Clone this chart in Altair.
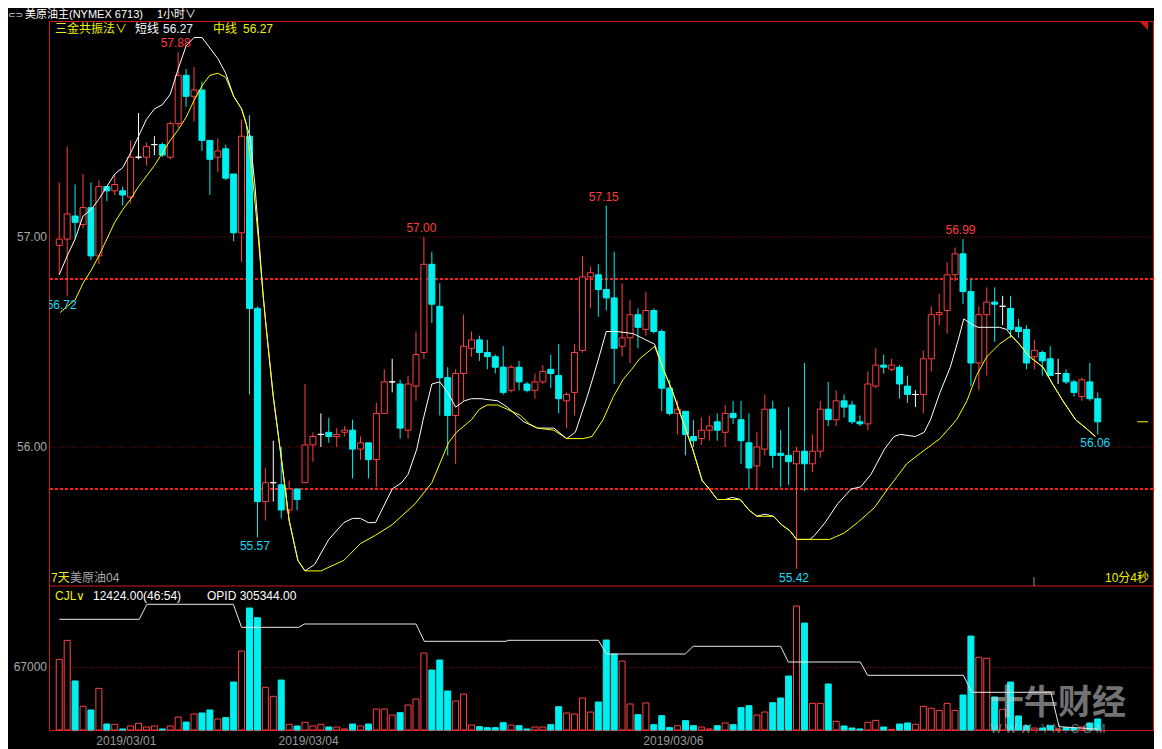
import altair as alt
import pandas as pd

# ---------------- data ----------------
OPEN = [56.96, 56.99, 57.10, 57.06, 57.14, 56.91, 57.24, 57.22, 57.22, 57.19,
        57.38, 57.38, 57.44, 57.44, 57.38, 57.54, 57.77, 57.67, 57.70, 57.46,
        57.38, 57.42, 57.30, 57.02, 57.48, 56.66, 55.74, 55.83, 55.82, 55.70,
        55.80, 55.83, 56.01, 56.06, 56.07, 56.05, 56.07, 56.08, 55.99, 56.02,
        55.94, 56.16, 56.31, 56.30, 56.08, 56.29, 56.45, 56.87, 56.67, 56.33,
        56.15, 56.35, 56.47, 56.51, 56.45, 56.43, 56.38, 56.27, 56.38, 56.30,
        56.27, 56.31, 56.37, 56.34, 56.22, 56.26, 56.46, 56.81, 56.82, 56.75,
        56.71, 56.48, 56.52, 56.63, 56.56, 56.65, 56.55, 56.28, 56.16, 56.17,
        56.05, 56.04, 56.08, 56.12, 56.07, 56.16, 56.13, 56.02, 55.91, 55.99,
        56.18, 55.97, 55.96, 55.92, 55.98, 55.92, 55.98, 56.18, 56.13, 56.22,
        56.20, 56.12, 56.11, 56.29, 56.39, 56.37, 56.38, 56.29, 56.25, 56.25,
        56.42, 56.63, 56.65, 56.82, 56.92, 56.74, 56.40, 56.63, 56.69, 56.67,
        56.66, 56.57, 56.56, 56.43, 56.45, 56.42, 56.35, 56.35, 56.31, 56.24,
        56.31, 56.23]
HIGH = [57.26, 57.43, 57.25, 57.30, 57.26, 57.27, 57.24, 57.30, 57.24, 57.46,
        57.59, 57.45, 57.48, 57.45, 57.55, 57.88, 57.80, 57.81, 57.74, 57.46,
        57.47, 57.44, 57.30, 57.56, 57.58, 56.67, 55.90, 56.03, 56.00, 55.84,
        55.80, 56.30, 56.07, 56.16, 56.14, 56.09, 56.10, 56.13, 56.05, 56.02,
        56.21, 56.37, 56.42, 56.32, 56.34, 56.55, 57.00, 56.93, 56.78, 56.38,
        56.37, 56.63, 56.55, 56.53, 56.51, 56.44, 56.48, 56.39, 56.41, 56.31,
        56.35, 56.39, 56.44, 56.49, 56.26, 56.49, 56.91, 56.86, 56.87, 57.15,
        56.93, 56.78, 56.70, 56.66, 56.74, 56.66, 56.56, 56.32, 56.22, 56.17,
        56.13, 56.14, 56.15, 56.16, 56.20, 56.22, 56.22, 56.16, 56.07, 56.25,
        56.22, 56.08, 56.19, 56.00, 56.40, 56.06, 56.22, 56.31, 56.27, 56.25,
        56.22, 56.15, 56.36, 56.47, 56.44, 56.42, 56.39, 56.34, 56.27, 56.46,
        56.67, 56.73, 56.88, 56.95, 56.99, 56.80, 56.67, 56.76, 56.76, 56.72,
        56.72, 56.61, 56.58, 56.51, 56.46, 56.48, 56.42, 56.37, 56.32, 56.33,
        56.40, 56.26]
LOW = [56.82, 56.72, 56.99, 57.04, 56.89, 56.87, 57.17, 57.20, 57.15, 57.16,
       57.37, 57.34, 57.39, 57.38, 57.37, 57.52, 57.62, 57.55, 57.41, 57.20,
       57.31, 57.27, 56.98, 56.88, 56.25, 55.57, 55.65, 55.74, 55.66, 55.68,
       55.70, 55.83, 55.93, 56.00, 56.02, 56.00, 56.05, 55.85, 55.94, 55.85,
       55.81, 56.16, 56.26, 56.04, 56.04, 56.22, 56.42, 56.59, 56.15, 55.96,
       55.92, 56.22, 56.43, 56.41, 56.37, 56.35, 56.25, 56.26, 56.27, 56.26,
       56.23, 56.30, 56.28, 56.16, 56.09, 56.15, 56.45, 56.66, 56.62, 56.65,
       56.30, 56.43, 56.40, 56.47, 56.53, 56.54, 56.17, 56.15, 56.06, 55.96,
       56.00, 56.01, 56.03, 56.03, 56.00, 56.11, 55.92, 55.80, 55.80, 55.96,
       55.90, 55.81, 55.82, 55.42, 55.79, 55.88, 55.95, 56.10, 56.10, 56.14,
       56.11, 56.10, 56.08, 56.28, 56.35, 56.36, 56.23, 56.21, 56.19, 56.16,
       56.36, 56.58, 56.54, 56.79, 56.68, 56.29, 56.27, 56.34, 56.50, 56.58,
       56.52, 56.52, 56.37, 56.37, 56.34, 56.34, 56.30, 56.30, 56.24, 56.22,
       56.22, 56.06]
CLOSE = [56.99, 57.11, 57.07, 57.14, 56.91, 57.24, 57.22, 57.25, 57.20, 57.38,
         57.38, 57.43, 57.44, 57.39, 57.54, 57.77, 57.67, 57.70, 57.46, 57.37,
         57.41, 57.28, 57.02, 57.48, 56.66, 55.74, 55.83, 55.83, 55.70, 55.80,
         55.75, 56.01, 56.05, 56.06, 56.05, 56.06, 56.08, 55.99, 56.02, 55.94,
         56.16, 56.31, 56.31, 56.09, 56.30, 56.44, 56.87, 56.68, 56.33, 56.15,
         56.35, 56.48, 56.51, 56.45, 56.43, 56.38, 56.26, 56.38, 56.31, 56.27,
         56.31, 56.36, 56.35, 56.23, 56.25, 56.45, 56.81, 56.83, 56.75, 56.71,
         56.47, 56.52, 56.63, 56.57, 56.65, 56.55, 56.28, 56.16, 56.18, 56.06,
         56.03, 56.08, 56.10, 56.08, 56.16, 56.14, 56.03, 55.90, 56.00, 56.18,
         55.96, 55.96, 55.93, 55.98, 55.92, 55.98, 56.18, 56.13, 56.22, 56.19,
         56.12, 56.11, 56.30, 56.39, 56.38, 56.39, 56.30, 56.25, 56.25, 56.42,
         56.63, 56.64, 56.82, 56.92, 56.74, 56.40, 56.63, 56.69, 56.68, 56.67,
         56.56, 56.55, 56.40, 56.46, 56.41, 56.34, 56.35, 56.31, 56.26, 56.32,
         56.23, 56.12]
VOLUME = [75500, 95800, 52400, 25300, 21400, 44500, 6400, 6100, 1100, 4300,
          7100, 3200, 4300, 1100, 4300, 13900, 8500, 17100, 18200, 21400,
          11800, 13200, 51300, 84400, 130400, 120000, 45600, 36000, 53400, 6100,
          4300, 8200, 4300, 6100, 3200, 3200, 1100, 6400, 4300, 6400,
          22400, 22400, 16000, 18500, 26700, 33100, 82300, 64100, 74800, 41700,
          31000, 38500, 5300, 3600, 2500, 2500, 7800, 5300, 4600, 1100,
          3200, 3200, 5700, 24900, 18200, 17100, 34200, 19200, 29900, 96200,
          81200, 73700, 27800, 16400, 28900, 5700, 15300, 2500, 4600, 10000,
          4600, 3200, 1100, 4600, 7500, 5700, 23900, 26000, 16000, 19200,
          29200, 34200, 57700, 132500, 114300, 28500, 28500, 49200, 9300, 4300,
          2100, 1100, 8200, 10300, 3200, 700, 6400, 7500, 6100, 25300,
          23200, 21000, 28500, 21000, 37400, 100400, 77700, 76600, 35300, 22100,
          51300, 15000, 4600, 2100, 2100, 4600, 1100, 2500, 2100, 3200,
          7500, 11800]

# short line (white) and mid line (yellow): candle index, price
SHORT_X = [0, 1, 2, 3, 4, 5, 6, 7, 8, 9, 10, 11, 12, 13, 14, 15, 16, 17, 18, 19, 20, 21, 22, 23,
           24.05, 24.7, 25.7, 26.1, 27, 28, 29, 30.1, 31,
           32.2, 34, 35.9, 37, 38, 39, 39.9,
           42, 43.2, 44, 45.1, 45.9, 47, 48, 49, 50, 51.1, 52, 53.2,
           55.3, 56.5, 58.6, 60.3, 62.4, 64, 65.1, 66.6, 67.8, 69, 70.3, 72.4, 74, 75.1,
           76.1, 77.4, 78.6, 79.9, 81.1, 82, 83, 84, 84.9, 85.9, 87, 88, 89, 90.1, 91.1, 92.2, 93, 94.7,
           95.3, 96.6, 98.2, 99.9, 101.1, 102.4, 104.1, 105.3, 106.1, 108, 109.1, 109.9, 111.1,
           112.4, 113.4, 114.1, 115.3, 115.9, 118.6, 119.5, 120.1,
           121.1, 122.4, 124.1, 125.3, 126.6, 128.2, 129.5, 130.7]
SHORT_Y = [56.82, 56.91, 56.99, 57.10, 57.13, 57.18, 57.24, 57.30, 57.33, 57.40, 57.48, 57.56,
           57.61, 57.63, 57.68, 57.80, 57.91, 57.95, 57.95, 57.90, 57.85, 57.78, 57.67, 57.61,
           57.48, 57.24, 56.73, 56.57, 56.24, 55.95, 55.65, 55.46, 55.41,
           55.44, 55.56, 55.64, 55.66, 55.66, 55.64, 55.64,
           55.80, 55.83, 55.87, 55.99, 56.13, 56.30, 56.31, 56.26, 56.19, 56.22, 56.23, 56.23,
           56.22, 56.19, 56.12, 56.09, 56.09, 56.04, 56.07, 56.24, 56.39, 56.55, 56.55, 56.54, 56.51, 56.49,
           56.38, 56.26, 56.13, 55.99, 55.84, 55.80, 55.75, 55.75, 55.76, 55.75, 55.70, 55.67, 55.68,
           55.67, 55.63, 55.60, 55.56, 55.56,
           55.58, 55.64, 55.73, 55.80, 55.81, 55.87, 55.99, 56.05, 56.06, 56.05, 56.07, 56.13, 56.26,
           56.38, 56.51, 56.61, 56.58, 56.57, 56.57, 56.56, 56.53,
           56.49, 56.43, 56.38, 56.30, 56.22, 56.13, 56.09, 56.05]
MID_X = [0.1, 1, 2, 3, 4, 5, 6, 7, 8, 9, 10, 11, 12, 13, 14, 15, 16, 17, 18, 19, 20, 21, 22, 23,
         23.6, 24.5, 25.1, 25.7, 26.1, 27, 28, 29, 30.1, 31,
         33, 35.9, 38, 39.9, 42, 44.9, 47, 49.1, 50.1, 52, 53, 54, 55.3, 56.5, 58.2, 59.3, 60.3,
         62.4, 64, 66.1, 67.2, 68.6, 69.9, 71.1, 72.2, 73.2, 74.5, 75.1,
         76.1, 77.4, 78.6, 79.9, 81.1, 82, 83, 84, 85.9, 87, 88, 90.1, 91.1, 92.2, 93, 94.7,
         97.2, 99, 100.7, 102.8, 104.5, 105.7, 106.9, 108.6, 111.1, 113.2, 114.5, 115.7, 117,
         118.6, 120.1,
         121.1, 122.4, 124.1, 125.3, 126.6, 128.2, 129.5, 130.7]
MID_Y = [56.64, 56.67, 56.70, 56.78, 56.84, 56.91, 56.99, 57.07, 57.13, 57.18, 57.24, 57.29,
         57.34, 57.40, 57.46, 57.51, 57.57, 57.65, 57.72, 57.77, 57.78, 57.76, 57.67, 57.61,
         57.54, 57.24, 57.00, 56.73, 56.57, 56.24, 55.95, 55.65, 55.46, 55.41,
         55.41, 55.46, 55.54, 55.58, 55.63, 55.73, 55.83, 56.02, 56.07, 56.13, 56.18, 56.20, 56.20,
         56.18, 56.15, 56.11, 56.09, 56.08, 56.04, 56.04, 56.05, 56.13, 56.24, 56.32, 56.37, 56.42,
         56.46, 56.48,
         56.38, 56.26, 56.13, 55.99, 55.84, 55.80, 55.75, 55.75, 55.75, 55.70, 55.67, 55.67, 55.63,
         55.60, 55.56, 55.56,
         55.56, 55.59, 55.64, 55.71, 55.80, 55.86, 55.92, 55.97, 56.04, 56.13, 56.22, 56.34, 56.43,
         56.49, 56.53,
         56.49, 56.43, 56.38, 56.30, 56.22, 56.13, 56.09, 56.05]
# open interest line in the lower panel
OPID_X = [0, 10.09, 11.05, 21.96, 23, 30.21, 30.93, 45, 46.05, 56.46, 56.5, 68, 69.05, 78.96,
          79.96, 91, 91.96, 101.05, 101.96, 114.05, 115.09, 125.09, 126.12, 131]
OPID_V = [310835, 310835, 311585, 311585, 310435, 310435, 310600, 310600, 309735, 309735,
          309785, 309785, 309100, 309100, 309485, 309485, 308700, 308700, 308035, 308035,
          307185, 307185, 305465, 305344]

PRICE_TICKS = [57.0, 56.0]
PRICE_TICK_LABELS = ["57.00", "56.00"]
LEVELS = [56.80, 55.80]
VOL_TICKS = [67000]
VOL_TICK_LABELS = ["67000"]
DATE_POS = [8.46, 31.46, 77.46]
DATE_LABELS = ["2019/03/01", "2019/03/04", "2019/03/06"]
HIGH_MARK_I = [15, 46, 69, 114]
HIGH_MARK_P = [57.88, 57.00, 57.15, 56.99]
LOW_MARK_I = [25, 93, 131]
LOW_MARK_P = [55.57, 55.42, 56.06]
EDGE_LOW_I = [1]
EDGE_LOW_P = [56.72]

# ---------------- styling / geometry ----------------
W, H = 1104, 709
X_DOMAIN = [-0.6625, 137.3375]
PRICE_DOMAIN = [55.3381, 58.0286]
VOL_DOMAIN = [0, 153900]
OPID_DOMAIN = [305300, 312500]

RED = "#ff4040"
CYAN = "#00f0f0"
WHITE = "#ffffff"
YELLOW = "#ffff00"
YTXT = "#eeee00"
GRAY = "#a8a8a8"
BORDER = "#cc1a1a"
LAT = "Liberation Sans"
MIXED = "Liberation Sans, Noto Sans CJK SC"

xs = alt.Scale(domain=X_DOMAIN, nice=False, zero=False)
ps = alt.Scale(domain=PRICE_DOMAIN, range=[565, 0], nice=False, zero=False)
vs = alt.Scale(domain=VOL_DOMAIN, range=[709, 565], nice=False, zero=False)
os_ = alt.Scale(domain=OPID_DOMAIN, range=[709, 565], nice=False, zero=False)

N = len(OPEN)
df = pd.DataFrame({"i": list(range(N)), "open": OPEN, "high": HIGH, "low": LOW,
                   "close": CLOSE, "volume": VOLUME})
df["dir"] = ["up" if c > o else ("down" if c < o else "flat") for o, c in zip(OPEN, CLOSE)]
df["vdir"] = ["down" if c < o else "up" for o, c in zip(OPEN, CLOSE)]

DIRS = ["up", "down", "flat"]
stroke_sc = alt.Scale(domain=DIRS, range=[RED, CYAN, WHITE])
fill_sc = alt.Scale(domain=DIRS, range=["#000000", CYAN, WHITE])

X = lambda f: alt.X(f, type="quantitative", scale=xs, axis=None)
YP = lambda f: alt.Y(f, type="quantitative", scale=ps, axis=None)

# ---------------- price panel ----------------
ptick = pd.DataFrame({"p": PRICE_TICKS, "label": PRICE_TICK_LABELS})
grid = alt.Chart(ptick).mark_rule(color="#9a0000", strokeDash=[1, 2], strokeWidth=1).encode(y=YP("p"))
ptext = alt.Chart(ptick).mark_text(align="right", baseline="middle", color=GRAY, fontSize=12,
                                   font=LAT).encode(x=alt.value(-2), y=YP("p"), text="label:N")
lv = alt.Chart(pd.DataFrame({"p": LEVELS})).mark_rule(
    color="#ff1a1a", strokeDash=[3, 2], strokeWidth=2).encode(y=YP("p"))

wicks = alt.Chart(df).mark_rule(strokeWidth=1).encode(
    x=X("i"), y=YP("low"), y2="high:Q",
    color=alt.Color("dir:N", scale=stroke_sc, legend=None))
bodies = alt.Chart(df).mark_bar(size=6, strokeWidth=1).encode(
    x=X("i"), y=YP("open"), y2="close:Q",
    fill=alt.Fill("dir:N", scale=fill_sc, legend=None),
    stroke=alt.Stroke("dir:N", scale=stroke_sc, legend=None))

short_line = alt.Chart(pd.DataFrame({"x": SHORT_X, "p": SHORT_Y})).mark_line(
    color=WHITE, strokeWidth=1).encode(x=X("x"), y=YP("p"))
mid_line = alt.Chart(pd.DataFrame({"x": MID_X, "p": MID_Y})).mark_line(
    color=YELLOW, strokeWidth=1).encode(x=X("x"), y=YP("p"))


def mark_df(idx, vals):
    d = pd.DataFrame({"i": idx, "p": vals})
    d["t"] = [f"{v:.2f}" for v in vals]
    return d


hi_txt = alt.Chart(mark_df(HIGH_MARK_I, HIGH_MARK_P)).mark_text(
    color="#ff3c3c", fontSize=12, font=LAT, dy=-9, dx=-2.5, baseline="middle").encode(
    x=X("i"), y=YP("p"), text="t:N")
lo_txt = alt.Chart(mark_df(LOW_MARK_I, LOW_MARK_P)).mark_text(
    color="#19d8f0", fontSize=12, font=LAT, dy=9, dx=-2.5, baseline="middle").encode(
    x=X("i"), y=YP("p"), text="t:N")
edge_txt = alt.Chart(mark_df(EDGE_LOW_I, EDGE_LOW_P)).mark_text(
    color="#19d8f0", fontSize=12, font=LAT, dy=9, dx=-5.5, baseline="middle", clip=True).encode(
    x=X("i"), y=YP("p"), text="t:N")

one = pd.DataFrame({"k": [0]})
sep = alt.Chart(one).mark_rule(color=BORDER, strokeWidth=1).encode(
    y=alt.YDatum(PRICE_DOMAIN[0], scale=ps, axis=None))
last_mark = alt.Chart(one).mark_rule(color=YELLOW, strokeWidth=1).encode(
    x=alt.XDatum(136.0, scale=xs, axis=None), x2=alt.X2Datum(X_DOMAIN[1]),
    y=alt.YDatum(CLOSE[-1], scale=ps, axis=None))
corner = alt.Chart(one).mark_point(shape="M -1 0 L 0 0 L 0 1 Z", filled=True, size=324,
                                   color=BORDER, opacity=1, strokeWidth=0).encode(
    x=alt.XDatum(X_DOMAIN[1], scale=xs, axis=None),
    y=alt.YDatum(PRICE_DOMAIN[1], scale=ps, axis=None))

price = alt.layer(grid, lv, ptext, wicks, bodies, short_line, mid_line, hi_txt, lo_txt,
                  edge_txt, sep, last_mark, corner)

# ---------------- volume panel ----------------
vtick = pd.DataFrame({"v": VOL_TICKS, "label": VOL_TICK_LABELS})
vgrid = alt.Chart(vtick).mark_rule(color="#9a0000", strokeDash=[1, 2], strokeWidth=1).encode(
    y=alt.Y("v:Q", scale=vs, axis=None))
vtext = alt.Chart(vtick).mark_text(align="right", baseline="middle", color=GRAY, fontSize=12,
                                   font=LAT).encode(x=alt.value(-2), y=alt.Y("v:Q", scale=vs, axis=None),
                                                    text="label:N")
vbars = alt.Chart(df).mark_bar(size=6, strokeWidth=1).encode(
    x=X("i"), y=alt.Y("volume:Q", scale=vs, axis=None),
    fill=alt.Fill("vdir:N", scale=fill_sc, legend=None),
    stroke=alt.Stroke("vdir:N", scale=stroke_sc, legend=None))
vol = alt.layer(vgrid, vbars, vtext)

opid = alt.Chart(pd.DataFrame({"x": OPID_X, "v": OPID_V})).mark_line(
    color="#e8e8e8", strokeWidth=1).encode(x=X("x"), y=alt.Y("v:Q", scale=os_, axis=None))

# ---------------- texts ----------------
dates = alt.Chart(pd.DataFrame({"x": DATE_POS, "t": DATE_LABELS})).mark_text(
    color="#9a9a9a", fontSize=12, font=LAT, baseline="middle").encode(
    x=X("x"), y=alt.value(720), text="t:N")


def note(text, x, y, color, size=12, align="left", font=MIXED, weight="normal", opacity=1.0):
    return alt.Chart(pd.DataFrame({"t": [text]})).mark_text(
        align=align, baseline="middle", color=color, fontSize=size, font=font,
        fontWeight=weight, opacity=opacity).encode(x=alt.value(x), y=alt.value(y), text="t:N")


notes = [
    note("⊂⊃", -41, -6, "#d8d8d8", 9, font="DejaVu Sans"),
    note("美原油主(NYMEX 6713)", -24, -6, WHITE, 11),
    note("1小时∨", 108, -6, WHITE, 11),
    note("三金共振法∨", 6, 8, YTXT, 12),
    note("短线", 86, 8, WHITE, 12),
    note("56.27", 114, 8, "#e6f0ff", 12, font=LAT),
    note("中线", 164, 8, YTXT, 12),
    note("56.27", 194, 8, YTXT, 12, font=LAT),
    note("7天", 2, 557, YTXT, 12),
    note("美原油04", 21, 557, GRAY, 12),
    note("10分4秒", 1100, 557, YTXT, 12, align="right"),
    note("CJL∨", 6, 575, YTXT, 12, font=LAT),
    note("12424.00(46:54)", 44, 575, WHITE, 12, font=LAT),
    note("OPID 305344.00", 158, 575, WHITE, 12, font=LAT),
    note("十牛财经", 1009, 683, "#cfcfcf", 34, align="center", weight="bold", opacity=0.55,
         font="Noto Sans CJK SC"),
    note("W W W . Y N . C O M", 999, 708, "#cfcfcf", 12, align="center", font=LAT, opacity=0.5),
]
cursor_tick = alt.Chart(one).mark_rule(color="#909090", strokeWidth=1).encode(
    x=alt.value(985), y=alt.value(556), y2=alt.value(565))

chart = alt.layer(price, vol, opid, dates, cursor_tick, *notes).resolve_scale(
    y="independent"
).properties(
    width=W, height=H,
    padding={"left": 41, "top": 13, "right": 1, "bottom": 19},
    autosize=alt.AutoSizeParams(type="none"),
    background="#000000",
).configure_view(stroke=BORDER, strokeWidth=1)

chart.save("out.html", embed_options={"renderer": "svg", "actions": False})
